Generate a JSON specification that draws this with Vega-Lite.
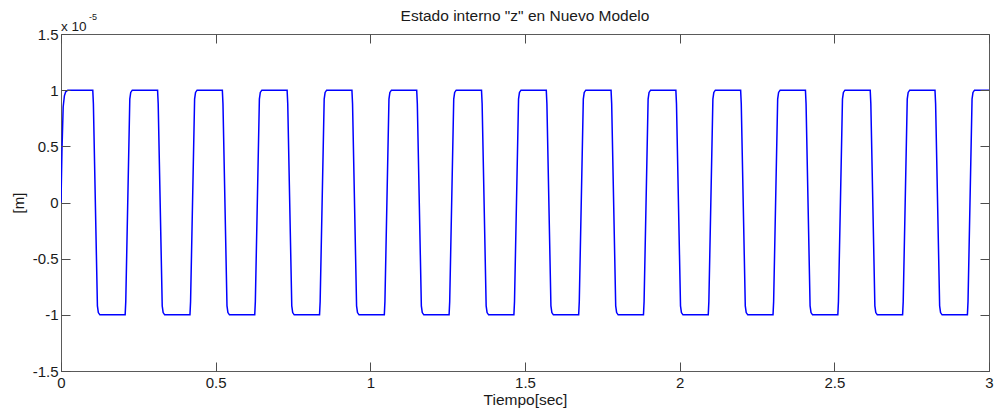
{
  "$schema": "https://vega.github.io/schema/vega-lite/v6.json",
  "width": 928,
  "height": 337,
  "autosize": {"type": "none"},
  "padding": {"left": 61, "top": 34, "right": 6, "bottom": 43},
  "background": "white",
  "config": {
    "font": "Liberation Sans",
    "view": {"stroke": "#5a5a5a", "strokeWidth": 1}
  },
  "title": {
    "text": "Estado interno \"z\" en Nuevo Modelo",
    "font": "Liberation Sans",
    "fontSize": 15.5,
    "fontWeight": "normal",
    "color": "#1a1a1a",
    "anchor": "middle",
    "offset": 2,
    "dy": 13
  },
  "datasets": {
    "z": [
      {"t": 0, "z": 0}, {"t": 0.003, "z": 0.45}, {"t": 0.007, "z": 0.85}, {"t": 0.011, "z": 0.95}, {"t": 0.015, "z": 0.985}, {"t": 0.022, "z": 1},
      {"t": 0.1027, "z": 1}, {"t": 0.1047, "z": 0.88}, {"t": 0.1177, "z": -0.92}, {"t": 0.1207, "z": -0.98}, {"t": 0.1257, "z": -1},
      {"t": 0.2074, "z": -1}, {"t": 0.2094, "z": -0.88}, {"t": 0.2224, "z": 0.92}, {"t": 0.2254, "z": 0.98}, {"t": 0.2304, "z": 1},
      {"t": 0.3122, "z": 1}, {"t": 0.3142, "z": 0.88}, {"t": 0.3272, "z": -0.92}, {"t": 0.3302, "z": -0.98}, {"t": 0.3352, "z": -1},
      {"t": 0.4169, "z": -1}, {"t": 0.4189, "z": -0.88}, {"t": 0.4319, "z": 0.92}, {"t": 0.4349, "z": 0.98}, {"t": 0.4399, "z": 1},
      {"t": 0.5216, "z": 1}, {"t": 0.5236, "z": 0.88}, {"t": 0.5366, "z": -0.92}, {"t": 0.5396, "z": -0.98}, {"t": 0.5446, "z": -1},
      {"t": 0.6263, "z": -1}, {"t": 0.6283, "z": -0.88}, {"t": 0.6413, "z": 0.92}, {"t": 0.6443, "z": 0.98}, {"t": 0.6493, "z": 1},
      {"t": 0.7310, "z": 1}, {"t": 0.7330, "z": 0.88}, {"t": 0.7460, "z": -0.92}, {"t": 0.7490, "z": -0.98}, {"t": 0.7540, "z": -1},
      {"t": 0.8358, "z": -1}, {"t": 0.8378, "z": -0.88}, {"t": 0.8508, "z": 0.92}, {"t": 0.8538, "z": 0.98}, {"t": 0.8588, "z": 1},
      {"t": 0.9405, "z": 1}, {"t": 0.9425, "z": 0.88}, {"t": 0.9555, "z": -0.92}, {"t": 0.9585, "z": -0.98}, {"t": 0.9635, "z": -1},
      {"t": 1.0452, "z": -1}, {"t": 1.0472, "z": -0.88}, {"t": 1.0602, "z": 0.92}, {"t": 1.0632, "z": 0.98}, {"t": 1.0682, "z": 1},
      {"t": 1.1499, "z": 1}, {"t": 1.1519, "z": 0.88}, {"t": 1.1649, "z": -0.92}, {"t": 1.1679, "z": -0.98}, {"t": 1.1729, "z": -1},
      {"t": 1.2546, "z": -1}, {"t": 1.2566, "z": -0.88}, {"t": 1.2696, "z": 0.92}, {"t": 1.2726, "z": 0.98}, {"t": 1.2776, "z": 1},
      {"t": 1.3594, "z": 1}, {"t": 1.3614, "z": 0.88}, {"t": 1.3744, "z": -0.92}, {"t": 1.3774, "z": -0.98}, {"t": 1.3824, "z": -1},
      {"t": 1.4641, "z": -1}, {"t": 1.4661, "z": -0.88}, {"t": 1.4791, "z": 0.92}, {"t": 1.4821, "z": 0.98}, {"t": 1.4871, "z": 1},
      {"t": 1.5688, "z": 1}, {"t": 1.5708, "z": 0.88}, {"t": 1.5838, "z": -0.92}, {"t": 1.5868, "z": -0.98}, {"t": 1.5918, "z": -1},
      {"t": 1.6735, "z": -1}, {"t": 1.6755, "z": -0.88}, {"t": 1.6885, "z": 0.92}, {"t": 1.6915, "z": 0.98}, {"t": 1.6965, "z": 1},
      {"t": 1.7782, "z": 1}, {"t": 1.7802, "z": 0.88}, {"t": 1.7932, "z": -0.92}, {"t": 1.7962, "z": -0.98}, {"t": 1.8012, "z": -1},
      {"t": 1.8830, "z": -1}, {"t": 1.8850, "z": -0.88}, {"t": 1.8980, "z": 0.92}, {"t": 1.9010, "z": 0.98}, {"t": 1.9060, "z": 1},
      {"t": 1.9877, "z": 1}, {"t": 1.9897, "z": 0.88}, {"t": 2.0027, "z": -0.92}, {"t": 2.0057, "z": -0.98}, {"t": 2.0107, "z": -1},
      {"t": 2.0924, "z": -1}, {"t": 2.0944, "z": -0.88}, {"t": 2.1074, "z": 0.92}, {"t": 2.1104, "z": 0.98}, {"t": 2.1154, "z": 1},
      {"t": 2.1971, "z": 1}, {"t": 2.1991, "z": 0.88}, {"t": 2.2121, "z": -0.92}, {"t": 2.2151, "z": -0.98}, {"t": 2.2201, "z": -1},
      {"t": 2.3018, "z": -1}, {"t": 2.3038, "z": -0.88}, {"t": 2.3168, "z": 0.92}, {"t": 2.3198, "z": 0.98}, {"t": 2.3248, "z": 1},
      {"t": 2.4066, "z": 1}, {"t": 2.4086, "z": 0.88}, {"t": 2.4216, "z": -0.92}, {"t": 2.4246, "z": -0.98}, {"t": 2.4296, "z": -1},
      {"t": 2.5113, "z": -1}, {"t": 2.5133, "z": -0.88}, {"t": 2.5263, "z": 0.92}, {"t": 2.5293, "z": 0.98}, {"t": 2.5343, "z": 1},
      {"t": 2.6160, "z": 1}, {"t": 2.6180, "z": 0.88}, {"t": 2.6310, "z": -0.92}, {"t": 2.6340, "z": -0.98}, {"t": 2.6390, "z": -1},
      {"t": 2.7207, "z": -1}, {"t": 2.7227, "z": -0.88}, {"t": 2.7357, "z": 0.92}, {"t": 2.7387, "z": 0.98}, {"t": 2.7437, "z": 1},
      {"t": 2.8254, "z": 1}, {"t": 2.8274, "z": 0.88}, {"t": 2.8404, "z": -0.92}, {"t": 2.8434, "z": -0.98}, {"t": 2.8484, "z": -1},
      {"t": 2.9302, "z": -1}, {"t": 2.9322, "z": -0.88}, {"t": 2.9452, "z": 0.92}, {"t": 2.9482, "z": 0.98}, {"t": 2.9532, "z": 1},
      {"t": 3.0, "z": 1}
    ]
  },
  "layer": [
    {
      "data": {"name": "z"},
      "mark": {"type": "line", "color": "#0000ff", "strokeWidth": 1.5, "clip": true},
      "encoding": {
        "x": {
          "field": "t", "type": "quantitative",
          "scale": {"domain": [0, 3], "nice": false, "zero": false},
          "axis": {
            "orient": "bottom", "title": "Tiempo[sec]", "values": [0, 0.5, 1, 1.5, 2, 2.5, 3],
            "labelExpr": "'' + datum.value", "grid": false,
            "domainColor": "#5a5a5a", "ticks": false, "tickSize": 0,
            "labelPadding": 4, "labelFontSize": 15, "labelColor": "#1a1a1a", "labelFont": "Liberation Sans",
            "labelFlush": false,
            "titleFontSize": 15.5, "titleFontWeight": "normal", "titleColor": "#1a1a1a", "titlePadding": 2, "titleFont": "Liberation Sans"
          }
        },
        "y": {
          "field": "z", "type": "quantitative",
          "scale": {"domain": [-1.5, 1.5], "nice": false, "zero": false},
          "axis": {
            "orient": "left", "title": "[m]", "values": [-1.5, -1, -0.5, 0, 0.5, 1, 1.5],
            "labelExpr": "'' + datum.value", "grid": false,
            "domainColor": "#5a5a5a", "ticks": false, "tickSize": 0,
            "labelPadding": 3, "labelFontSize": 15, "labelColor": "#1a1a1a", "labelFont": "Liberation Sans",
            "labelFlush": false,
            "titleFontSize": 15, "titleFontWeight": "normal", "titleColor": "#1a1a1a", "titlePadding": 6, "titleFont": "Liberation Sans"
          }
        }
      }
    },
    {
      "data": {"name": "z"},
      "mark": {"type": "line", "strokeOpacity": 0},
      "encoding": {
        "x": {
          "field": "t", "type": "quantitative",
          "axis": {
            "orient": "bottom", "offset": -9, "title": null, "labels": false, "domain": false,
            "values": [0, 0.5, 1, 1.5, 2, 2.5, 3], "grid": false, "zindex": 2,
            "ticks": true, "tickColor": "#4d4d4d", "tickWidth": 1, "tickSize": 9
          }
        },
        "y": {
          "field": "z", "type": "quantitative",
          "axis": {
            "orient": "left", "offset": -9, "title": null, "labels": false, "domain": false,
            "values": [-1.5, -1, -0.5, 0, 0.5, 1, 1.5], "grid": false, "zindex": 2,
            "ticks": true, "tickColor": "#4d4d4d", "tickWidth": 1, "tickSize": 9
          }
        }
      }
    },
    {
      "data": {"name": "z"},
      "mark": {"type": "line", "strokeOpacity": 0},
      "encoding": {
        "x": {
          "field": "t", "type": "quantitative",
          "axis": {
            "orient": "top", "offset": -9, "title": null, "labels": false, "domain": false,
            "values": [0, 0.5, 1, 1.5, 2, 2.5, 3], "grid": false, "zindex": 2,
            "ticks": true, "tickColor": "#4d4d4d", "tickWidth": 1, "tickSize": 9
          }
        },
        "y": {
          "field": "z", "type": "quantitative",
          "axis": {
            "orient": "right", "offset": -9, "title": null, "labels": false, "domain": false,
            "values": [-1.5, -1, -0.5, 0, 0.5, 1, 1.5], "grid": false, "zindex": 2,
            "ticks": true, "tickColor": "#4d4d4d", "tickWidth": 1, "tickSize": 9
          }
        }
      }
    },
    {
      "data": {"values": [{}]},
      "mark": {"type": "text", "text": "x 10", "align": "left", "baseline": "alphabetic", "dx": 0, "dy": -3, "fontSize": 13.5, "font": "Liberation Sans", "color": "#1a1a1a"},
      "encoding": {
        "x": {"datum": 0, "type": "quantitative", "axis": null},
        "y": {"datum": 1.5, "type": "quantitative", "axis": null}
      }
    },
    {
      "data": {"values": [{}]},
      "mark": {"type": "text", "text": "-5", "align": "left", "baseline": "alphabetic", "dx": 28, "dy": -14, "fontSize": 9, "font": "Liberation Sans", "color": "#1a1a1a"},
      "encoding": {
        "x": {"datum": 0, "type": "quantitative", "axis": null},
        "y": {"datum": 1.5, "type": "quantitative", "axis": null}
      }
    }
  ],
  "resolve": {"axis": {"x": "independent", "y": "independent"}}
}
